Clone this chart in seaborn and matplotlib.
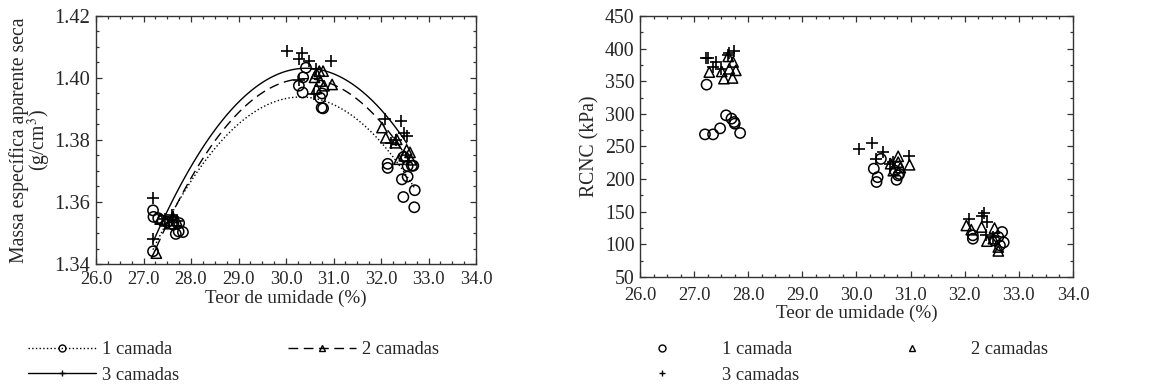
import numpy as np
import pandas as pd
import seaborn as sns
import matplotlib
matplotlib.use("Agg")
import matplotlib.pyplot as plt
from matplotlib.lines import Line2D
from matplotlib.ticker import MultipleLocator, FormatStrFormatter

# ---------------- data: left panel (Massa especifica aparente seca) ----------------
m1_x = [27.20, 27.20, 27.21, 27.31, 27.40, 27.50, 27.63, 27.68, 27.75, 27.74, 27.83,
        30.27, 30.36, 30.35, 30.42, 30.72, 30.76, 30.75, 30.78,
        32.14, 32.14, 32.44, 32.47, 32.56, 32.56, 32.65, 32.68, 32.71, 32.70, 32.48]
m1_y = [1.3441, 1.3573, 1.3552, 1.3548, 1.3540, 1.3535, 1.3527, 1.3497, 1.3532, 1.3505, 1.3503,
        1.3975, 1.4002, 1.3953, 1.4033, 1.3936, 1.3950, 1.3904, 1.3902,
        1.3723, 1.3710, 1.3673, 1.3616, 1.3682, 1.3716, 1.3717, 1.3717, 1.3638, 1.3583, 1.3746]

m2_x = [27.27, 27.35, 27.45, 27.55, 27.62, 27.70,
        30.60, 30.64, 30.70, 30.78, 30.64, 30.72, 30.80, 30.97,
        32.02, 32.10, 32.30, 32.33, 32.38, 32.49, 32.54, 32.61, 32.63]
m2_y = [1.3435, 1.3545, 1.3540, 1.3530, 1.3550, 1.3540,
        1.4002, 1.4015, 1.4022, 1.4022, 1.3966, 1.3990, 1.3975, 1.3979,
        1.3840, 1.3807, 1.3791, 1.3802, 1.3738, 1.3749, 1.3768, 1.3760, 1.3736]

m3_x = [27.20, 27.20, 27.45, 27.59, 27.63, 27.70,
        30.02, 30.34, 30.27, 30.48, 30.95, 30.64, 30.27, 30.59,
        32.08, 32.42, 32.21, 32.49, 32.54, 32.31]
m3_y = [1.3612, 1.3481, 1.3545, 1.3559, 1.3550, 1.3540,
        1.4087, 1.4082, 1.4060, 1.4054, 1.4054, 1.4030, 1.3993, 1.3947,
        1.3868, 1.3862, 1.3789, 1.3821, 1.3813, 1.3800]

# ---------------- data: right panel (RCNC, kPa) ----------------
r1_x = [27.23, 27.20, 27.35, 27.48, 27.59, 27.69, 27.74, 27.75, 27.85,
        30.32, 30.39, 30.37, 30.45, 30.74, 30.77, 30.79, 30.71,
        32.15, 32.15, 32.55, 32.62, 32.69, 32.72, 32.65]
r1_y = [344.8, 268.6, 268.6, 277.8, 297.8, 292.7, 287.5, 285.0, 270.7,
        216.0, 203.0, 195.6, 231.0, 199.0, 205.8, 208.0, 213.0,
        113.9, 108.7, 106.0, 111.3, 119.0, 103.0, 98.5]

r2_x = [27.28, 27.51, 27.55, 27.65, 27.71, 27.72, 27.77, 27.63,
        30.63, 30.77, 30.81, 30.98, 30.68, 30.77,
        32.03, 32.12, 32.31, 32.41, 32.55, 32.62, 32.62, 32.53]
r2_y = [364.0, 365.0, 354.0, 369.0, 355.0, 379.5, 366.7, 388.0,
        223.7, 235.0, 217.6, 222.0, 213.0, 226.0,
        129.0, 122.5, 126.6, 105.0, 125.0, 96.0, 90.0, 108.7]

r3_x = [27.22, 27.26, 27.40, 27.35, 27.62, 27.65, 27.73, 27.49,
        30.05, 30.29, 30.49, 30.36, 30.62, 30.68, 30.97,
        32.08, 32.32, 32.35, 32.41, 32.39, 32.53]
r3_y = [385.6, 385.6, 379.5, 372.0, 389.7, 393.0, 396.0, 368.0,
        245.7, 255.4, 241.6, 231.0, 223.7, 226.0, 235.4,
        139.4, 143.0, 148.0, 134.3, 113.9, 111.3]

labels = ["1 camada", "2 camadas", "3 camadas"]
x_ticks = [26.0, 27.0, 28.0, 29.0, 30.0, 31.0, 32.0, 33.0, 34.0]

sns.set_style("ticks")
plt.rcParams["font.family"] = ["Liberation Serif", "DejaVu Serif"]
plt.rcParams["mathtext.fontset"] = "stix"
FS = 13.3
YFS = 14.8

fig = plt.figure(figsize=(11.54, 3.87), dpi=100)
axL = fig.add_axes([0.0832, 0.3178, 0.3293, 0.6410])
axR = fig.add_axes([0.5546, 0.2842, 0.3752, 0.6745])

markers = ["o", "^", "+"]
styles = [":", (0, (7, 4)), "-"]
left_sets = [(m1_x, m1_y), (m2_x, m2_y), (m3_x, m3_y)]
right_sets = [(r1_x, r1_y), (r2_x, r2_y), (r3_x, r3_y)]

def draw_points(ax, xs, ys, mk):
    df = pd.DataFrame({"x": xs, "y": ys})
    if mk == "+":
        sns.scatterplot(data=df, x="x", y="y", marker="+", s=75, color="black",
                        linewidth=1.2, ax=ax, zorder=3)
    else:
        sns.scatterplot(data=df, x="x", y="y", marker=mk, s=55, facecolor="none",
                        edgecolor="black", linewidth=1.1, ax=ax, zorder=3)

for (xs, ys), mk, ls in zip(left_sets, markers, styles):
    df = pd.DataFrame({"x": xs, "y": ys})
    sns.regplot(data=df, x="x", y="y", order=2, scatter=False, ci=None, ax=axL,
                line_kws=dict(color="black", lw=1.0, ls=ls))
    draw_points(axL, xs, ys, mk)

for (xs, ys), mk in zip(right_sets, markers):
    draw_points(axR, xs, ys, mk)

for ax in (axL, axR):
    ax.set_xlim(26, 34)
    ax.set_xticks(x_ticks)
    ax.xaxis.set_major_formatter(FormatStrFormatter("%.1f"))
    ax.xaxis.set_minor_locator(MultipleLocator(0.25))
    ax.tick_params(which="both", direction="in", top=True, right=True,
                   width=0.9, color="#333333")
    ax.tick_params(axis="x", labelsize=FS, pad=5)
    ax.tick_params(axis="y", labelsize=YFS, pad=4)
    ax.tick_params(which="major", length=4)
    ax.tick_params(which="minor", length=2.5)
    ax.set_xlabel("Teor de umidade (%)", fontsize=FS + 0.5, labelpad=1)
    for sp in ax.spines.values():
        sp.set_linewidth(1.0)
        sp.set_color("#333333")

axR.tick_params(axis="x", pad=7)
axR.tick_params(axis="y", labelsize=14.3)

axL.set_ylim(1.34, 1.42)
axL.yaxis.set_major_locator(MultipleLocator(0.02))
axL.yaxis.set_minor_locator(MultipleLocator(0.005))
axL.yaxis.set_major_formatter(FormatStrFormatter("%.2f"))
axL.set_ylabel("Massa específica aparente seca\n(g/cm$^3$)", fontsize=14.2,
               linespacing=0.85, labelpad=1)

axR.set_ylim(50, 450)
axR.yaxis.set_major_locator(MultipleLocator(50))
axR.yaxis.set_minor_locator(MultipleLocator(25))
axR.set_ylabel("RCNC (kPa)", fontsize=14.2, labelpad=4)

# legends (row order: 1 camada, 2 camadas / 3 camadas)
order = [0, 2, 1]
hL = [Line2D([], [], color="black", lw=1.0, ls=ls, marker=mk, markersize=5,
             markerfacecolor="none", markeredgecolor="black")
      for mk, ls in zip(markers, styles)]
fig.legend([hL[i] for i in order], [labels[i] for i in order], loc="upper left",
           bbox_to_anchor=(0.024, 0.118),
           ncol=2, frameon=False, fontsize=FS, handlelength=3.7, handletextpad=0.3,
           columnspacing=5.9, labelspacing=0.45, borderaxespad=0, borderpad=0)

hR = [Line2D([], [], color="black", lw=0, marker=mk, markersize=5,
             markerfacecolor="none", markeredgecolor="black")
      for mk in markers]
fig.legend([hR[i] for i in order], [labels[i] for i in order], loc="upper left",
           bbox_to_anchor=(0.558, 0.118),
           ncol=2, frameon=False, fontsize=FS, handlelength=2.0, handletextpad=2.2,
           columnspacing=5.15, labelspacing=0.45, borderaxespad=0, borderpad=0)

fig.savefig("out.png", dpi=100)
